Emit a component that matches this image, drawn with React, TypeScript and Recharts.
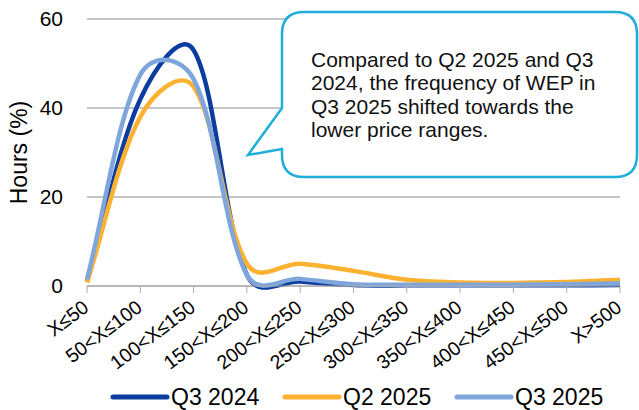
import React from 'react';
import { LineChart, Line, XAxis, YAxis, CartesianGrid } from 'recharts';

const categories = [
  'X≤50', '50<X≤100', '100<X≤150', '150<X≤200', '200<X≤250', '250<X≤300',
  '300<X≤350', '350<X≤400', '400<X≤450', '450<X≤500', 'X>500',
];
const q32024 = [1, 42, 53, 2.5, 1.0, 0.2, 0.15, 0.15, 0.15, 0.15, 0.2];
const q22025 = [0.8, 38, 44.8, 5.0, 5.0, 3.4, 1.4, 0.8, 0.7, 0.9, 1.4];
const q32025 = [1.5, 47.5, 46.5, 2.5, 1.6, 0.4, 0.3, 0.3, 0.3, 0.4, 0.6];
const yTicks = [0, 20, 40, 60];

const series = [
  { key: 'q32024', name: 'Q3 2024', color: '#0b3c9f' },
  { key: 'q22025', name: 'Q2 2025', color: '#fdb130' },
  { key: 'q32025', name: 'Q3 2025', color: '#7ea6dd' },
];

const data = categories.map((c, i) => ({
  cat: c,
  q32024: q32024[i],
  q22025: q22025[i],
  q32025: q32025[i],
}));

const FONT = '"Liberation Sans", Arial, sans-serif';

// smoothed line through every point; handle lengths weighted by sqrt of the neighbouring chord lengths
function smoothCurve(context: any) {
  let pts: number[][] = [];
  const w = (a: number[], b: number[]) => Math.sqrt(Math.hypot(b[0] - a[0], b[1] - a[1]));
  return {
    areaStart() {},
    areaEnd() {},
    lineStart() {
      pts = [];
    },
    lineEnd() {
      const n = pts.length;
      if (!n) return;
      const outH: number[][] = [];
      const inH: number[][] = [];
      for (let i = 0; i < n; i++) {
        const p0 = pts[Math.max(i - 1, 0)];
        const p1 = pts[i];
        const p2 = pts[Math.min(i + 1, n - 1)];
        const tx = p2[0] - p0[0];
        const ty = p2[1] - p0[1];
        const w01 = w(p0, p1);
        const w12 = w(p1, p2);
        const sum = w01 + w12 || 1;
        outH.push([p1[0] + (tx * w12) / sum / 3, p1[1] + (ty * w12) / sum / 3]);
        inH.push([p1[0] - (tx * w01) / sum / 3, p1[1] - (ty * w01) / sum / 3]);
      }
      context.moveTo(pts[0][0], pts[0][1]);
      for (let i = 0; i < n - 1; i++) {
        context.bezierCurveTo(outH[i][0], outH[i][1], inH[i + 1][0], inH[i + 1][1], pts[i + 1][0], pts[i + 1][1]);
      }
    },
    point(x: number, y: number) {
      pts.push([+x, +y]);
    },
  };
}

const XTick = (props: any) => {
  const { x, y, payload } = props;
  const ax = x + 3;
  const ay = y + 15;
  return (
    <text
      x={ax}
      y={ay}
      transform={`rotate(-37 ${ax} ${ay})`}
      textAnchor="end"
      fontSize={19.5}
      fontFamily={FONT}
      fill="#000"
    >
      {payload.value}
    </text>
  );
};

const Callout = () => (
  <svg width={639} height={410} style={{ position: 'absolute', left: 0, top: 0, pointerEvents: 'none' }}>
    <path
      d="M 304 12 H 615 Q 637 12 637 34 V 155 Q 637 177 615 177 H 304 Q 282 177 282 155 V 149 L 248 155 L 282 108 V 34 Q 282 12 304 12 Z"
      fill="#fff"
      stroke="#1fadd9"
      strokeWidth={2.5}
    />
    <text fontFamily={FONT} fontSize={21} fill="#111">
      <tspan x={311} y={67}>Compared to Q2 2025 and Q3</tspan>
      <tspan x={311} y={90.3}>2024, the frequency of WEP in</tspan>
      <tspan x={311} y={113.6}>Q3 2025 shifted towards the</tspan>
      <tspan x={311} y={136.9}>lower price ranges.</tspan>
    </text>
  </svg>
);

const LegendRow = () => (
  <svg width={639} height={410} style={{ position: 'absolute', left: 0, top: 0, pointerEvents: 'none' }}>
    {series.map((s, i) => {
      const x0 = 113 + i * 172;
      return (
        <g key={s.key}>
          <line x1={x0} x2={x0 + 54} y1={397} y2={397} stroke={s.color} strokeWidth={5} strokeLinecap="round" />
          <text x={x0 + 58} y={405} fontSize={23} fontFamily={FONT} fill="#000">
            {s.name}
          </text>
        </g>
      );
    })}
  </svg>
);

export default function App() {
  return (
    <div style={{ position: 'absolute', left: 0, top: 0, width: 639, height: 410, background: '#fff' }}>
      <LineChart width={639} height={410} data={data} margin={{ top: 19, right: 19, bottom: 44, left: 0 }}>
        <CartesianGrid vertical={false} stroke="#8c8c8c" strokeWidth={1} />
        <XAxis
          dataKey="cat"
          interval={0}
          height={80}
          tick={<XTick />}
          tickSize={7}
          stroke="#aaaaaa"
          tickLine={{ stroke: '#aaaaaa' }}
        />
        <YAxis
          domain={[0, 60]}
          ticks={yTicks}
          width={87}
          axisLine={false}
          tickLine={false}
          tickSize={0}
          tickMargin={24}
          tick={{ fontSize: 21, fontFamily: FONT, fill: '#000' }}
          label={{
            value: 'Hours (%)',
            angle: -90,
            position: 'insideLeft',
            dx: 14,
            style: { fontSize: 23, fontFamily: FONT, fill: '#000', textAnchor: 'middle' },
          }}
        />
        {series.map((s) => (
          <Line
            key={s.key}
            dataKey={s.key}
            name={s.name}
            type={smoothCurve as any}
            stroke={s.color}
            strokeWidth={4.5}
            dot={false}
            activeDot={false}
            isAnimationActive={false}
          />
        ))}
      </LineChart>
      <Callout />
      <LegendRow />
    </div>
  );
}
